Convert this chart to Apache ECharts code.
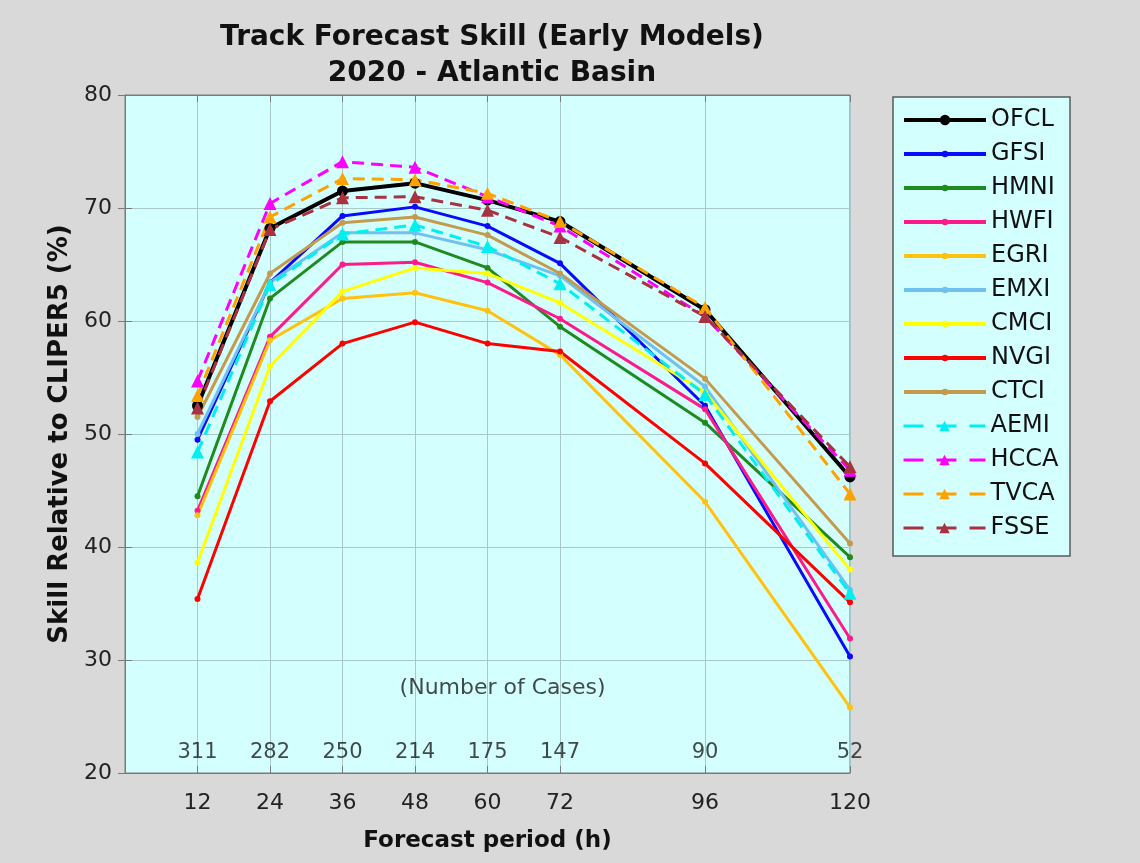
<!DOCTYPE html>
<html>
<head>
<meta charset="utf-8">
<script src="https://cdn.jsdelivr.net/npm/echarts@6.0.0/dist/echarts.min.js"></script>
<style>
  html, body { margin: 0; padding: 0; background: #d9d9d9; }
  #chart { width: 1140px; height: 863px; }
</style>
</head>
<body>
<div id="chart"></div>
<script>
  // forecast hours and number of cases at each
  const hours = [12, 24, 36, 48, 60, 72, 96, 120];
  const caseCounts = [311, 282, 250, 214, 175, 147, 90, 52];
  const yTicks = [20, 30, 40, 50, 60, 70, 80];

  // skill values (%)
  const ofcl = [52.5, 68.2, 71.5, 72.2, 70.7, 68.8, 61.0, 46.2];
  const gfsi = [49.5, 63.4, 69.3, 70.1, 68.4, 65.1, 52.5, 30.3];
  const hmni = [44.5, 62.0, 67.0, 67.0, 64.7, 59.5, 51.0, 39.1];
  const hwfi = [43.2, 58.6, 65.0, 65.2, 63.4, 60.2, 52.2, 31.9];
  const egri = [42.8, 58.3, 62.0, 62.5, 60.9, 57.0, 44.0, 25.8];
  const emxi = [50.0, 63.4, 67.8, 67.8, 66.3, 64.0, 54.2, 36.2];
  const cmci = [38.6, 56.0, 62.6, 64.7, 64.2, 61.6, 53.7, 38.0];
  const nvgi = [35.4, 52.9, 58.0, 59.9, 58.0, 57.3, 47.4, 35.1];
  const ctci = [51.5, 64.2, 68.7, 69.2, 67.6, 64.2, 54.9, 40.3];
  const aemi = [48.4, 63.2, 67.7, 68.5, 66.6, 63.3, 53.5, 35.9];
  const hcca = [54.7, 70.4, 74.1, 73.6, 71.0, 68.4, 60.4, 46.8];
  const tvca = [53.4, 69.2, 72.6, 72.5, 71.3, 68.8, 61.2, 44.7];
  const fsse = [52.3, 68.1, 70.9, 71.0, 69.8, 67.4, 60.4, 47.1];

  const models = [
    { name: "OFCL", data: ofcl, color: "#000000", dash: false, mark: "circle", size: 11, width: 4 },
    { name: "GFSI", data: gfsi, color: "#0a0aff", dash: false, mark: "circle", size: 6, width: 3 },
    { name: "HMNI", data: hmni, color: "#1f8a1f", dash: false, mark: "circle", size: 6, width: 3 },
    { name: "HWFI", data: hwfi, color: "#ff1a8c", dash: false, mark: "circle", size: 6, width: 3 },
    { name: "EGRI", data: egri, color: "#ffc20e", dash: false, mark: "circle", size: 6, width: 3 },
    { name: "EMXI", data: emxi, color: "#70c0f0", dash: false, mark: "circle", size: 6, width: 3 },
    { name: "CMCI", data: cmci, color: "#ffff00", dash: false, mark: "circle", size: 6, width: 3 },
    { name: "NVGI", data: nvgi, color: "#ff0000", dash: false, mark: "circle", size: 6, width: 3 },
    { name: "CTCI", data: ctci, color: "#c49a4c", dash: false, mark: "circle", size: 6, width: 3 },
    { name: "AEMI", data: aemi, color: "#00f0f0", dash: true, mark: "triangle", size: 13, width: 3 },
    { name: "HCCA", data: hcca, color: "#ff00ff", dash: true, mark: "triangle", size: 13, width: 3 },
    { name: "TVCA", data: tvca, color: "#ffa200", dash: true, mark: "triangle", size: 13, width: 3 },
    { name: "FSSE", data: fsse, color: "#a8323f", dash: true, mark: "triangle", size: 13, width: 3 }
  ];

  const font = "DejaVu Sans";
  const chart = echarts.init(document.getElementById("chart"));

  const lineSeries = models.map(m => ({
    name: m.name,
    type: "line",
    data: hours.map((h, i) => [h, m.data[i]]),
    symbol: m.mark,
    symbolSize: m.size,
    showSymbol: true,
    itemStyle: { color: m.color },
    lineStyle: { color: m.color, width: m.width, type: m.dash ? [12, 7] : "solid" },
    emphasis: { disabled: true },
    animation: false
  }));

  // case counts drawn as text at each forecast hour
  lineSeries.push({
    name: "cases",
    type: "scatter",
    symbolSize: 0,
    data: hours.map((h, i) => [h, 21.8, caseCounts[i]]),
    label: {
      show: true, position: "inside", color: "#1a1a1a", fontSize: 21,
      fontFamily: font, formatter: p => p.value[2]
    },
    silent: true, animation: false
  });
  lineSeries.push({
    name: "caseTitle",
    type: "scatter",
    symbolSize: 0,
    data: [[62.5, 27.5]],
    label: {
      show: true, position: "inside", color: "#1a1a1a", fontSize: 22,
      fontFamily: font, formatter: "(Number of Cases)"
    },
    silent: true, animation: false
  });

  // legend rows: 34px apart, first row centred at y=120
  const legendBase = {
    orient: "vertical",
    left: 902,
    itemWidth: 82, itemGap: 10, padding: 0,
    textStyle: { fontSize: 24, color: "#111", fontFamily: font },
    selectedMode: false
  };
  const legItem = m => ({
    name: m.name,
    lineStyle: { width: m.dash ? 3 : 4, type: m.dash ? [20, 13] : "solid" }
  });
  const legends = [
    Object.assign({}, legendBase, { top: 108, itemHeight: 13, data: models.slice(0, 1).map(legItem) }),
    Object.assign({}, legendBase, { top: 142, itemHeight: 8, data: models.slice(1, 9).map(legItem) }),
    Object.assign({}, legendBase, { top: 414, itemHeight: 13, data: models.slice(9).map(legItem) })
  ];

  const axisGray = "#7a7a7a";

  chart.setOption({
    backgroundColor: "#d9d9d9",
    textStyle: { fontFamily: font },
    title: {
      text: "Track Forecast Skill (Early Models)\n2020 - Atlantic Basin",
      left: 487, top: 15, textAlign: "center",
      textStyle: { fontSize: 28, fontWeight: "bold", color: "#111", lineHeight: 36, fontFamily: font }
    },
    graphic: [{
      type: "rect", z: 0,
      shape: { x: 893, y: 97, width: 177, height: 459 },
      style: { fill: "#d4ffff", stroke: "#5a5a5a", lineWidth: 1.5 }
    }],
    legend: legends,
    grid: {
      left: 125, right: 290, top: 95, bottom: 90,
      show: true, backgroundColor: "#d4ffff", borderColor: axisGray, borderWidth: 1
    },
    xAxis: [{
      type: "value", min: 0, max: 120, position: "bottom",
      name: "Forecast period (h)", nameLocation: "middle", nameGap: 57,
      nameTextStyle: { fontSize: 23, fontWeight: "bold", color: "#111" },
      axisLine: { show: true, lineStyle: { color: axisGray } },
      axisTick: { show: true, inside: true, length: 7, customValues: hours, lineStyle: { color: axisGray } },
      axisLabel: { customValues: hours, fontSize: 22, color: "#222", margin: 19 },
      splitLine: { show: true, lineStyle: { color: "#a9c9c9", width: 1 } }
    }, {
      type: "value", min: 0, max: 120, position: "top",
      axisLine: { show: true, lineStyle: { color: axisGray } },
      axisTick: { show: true, inside: true, length: 7, customValues: hours, lineStyle: { color: axisGray } },
      axisLabel: { show: false },
      splitLine: { show: false }
    }],
    yAxis: [{
      type: "value", min: 20, max: 80, interval: 10, position: "left",
      name: "Skill Relative to CLIPER5 (%)", nameLocation: "middle", nameGap: 46,
      nameTextStyle: { fontSize: 26, fontWeight: "bold", color: "#111" },
      axisLine: { show: true, lineStyle: { color: axisGray } },
      axisTick: { show: true, inside: true, length: 7, lineStyle: { color: axisGray } },
      axisLabel: { fontSize: 22, color: "#222", margin: 13 },
      splitLine: { show: true, lineStyle: { color: "#a9c9c9", width: 1 } }
    }, {
      type: "value", min: 20, max: 80, interval: 10, position: "right",
      axisLine: { show: true, lineStyle: { color: axisGray } },
      axisTick: { show: true, inside: true, length: 7, lineStyle: { color: axisGray } },
      axisLabel: { show: false },
      splitLine: { show: false }
    }],
    series: lineSeries
  });
</script>
</body>
</html>
